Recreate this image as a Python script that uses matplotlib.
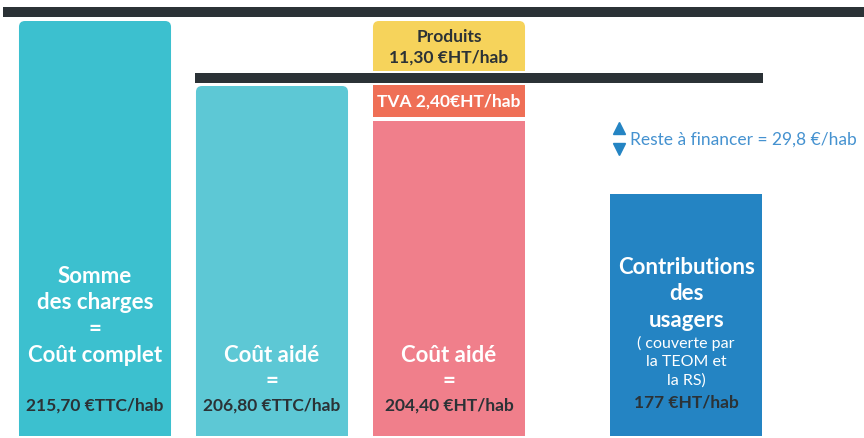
import numpy as np
import matplotlib.pyplot as plt
from matplotlib.patches import FancyBboxPatch, Rectangle

plt.rcParams['font.family'] = ['Lato', 'DejaVu Sans']

# niveaux schématiques des colonnes (hauteur sur l'infographie, pas à l'échelle des montants)
colonnes = ['Coût complet', 'Coût aidé TTC', 'Coût aidé HT', 'Contributions des usagers']
niveaux = [415, 350, 315, 242]
montants = ['215,70 €TTC/hab', '206,80 €TTC/hab', '204,40 €HT/hab', '177 €HT/hab']
tva_txt = 'TVA 2,40€HT/hab'
produits_txt = '11,30 €HT/hab'
reste_txt = 'Reste à financer = 29,8 €/hab'

couleurs = ['#3cc0cf', '#5dc8d5', '#f07f8b', '#2484c3']
c_tva = '#ef6f56'
c_produits = '#f6d35b'
c_noir = '#2b3236'
c_reste = '#4592d0'

x_pos = [0, 1, 2, 3.34]
largeur = 0.859
PX = 177.0  # pixels par unité x


def arrondir(ax, rect, r=6):
    """remplace un rectangle de barre par une version à coins supérieurs arrondis"""
    x, y = rect.get_x(), rect.get_y()
    w, h = rect.get_width(), rect.get_height()
    col = rect.get_facecolor()
    rect.remove()
    ax.add_patch(FancyBboxPatch((x, y), w, h,
                                boxstyle=f"round,pad=0,rounding_size={r / PX}",
                                mutation_aspect=PX, fc=col, ec='none'))
    ax.add_patch(Rectangle((x, y), w, h / 2, fc=col, ec='none'))


fig = plt.figure(figsize=(8.64, 4.39), dpi=100)
ax = fig.add_axes([0, 0, 1, 1])
ax.set_xlim(-95 / PX, (864 - 95) / PX)
ax.set_ylim(-2, 437)
ax.axis('off')

barres = ax.bar(x_pos, niveaux, width=largeur, color=couleurs, align='center')

# empilement de la 3e colonne : TVA puis Produits
gap = 4
tva_h = niveaux[1] - niveaux[2] - gap + 1
b_tva = ax.bar(x_pos[2], tva_h, bottom=niveaux[2] + gap, width=largeur, color=c_tva)
prod_bas = niveaux[1] + 15
b_prod = ax.bar(x_pos[2], niveaux[0] - prod_bas, bottom=prod_bas, width=largeur, color=c_produits)

arrondir(ax, barres[0])
arrondir(ax, barres[1])
arrondir(ax, b_prod[0])

# traits noirs de référence
ax.barh(niveaux[0] + 9, width=(864 - 3) / PX + 0.1, left=(3 - 95) / PX, height=10.5, color=c_noir)
ax.barh(niveaux[1] + 8.5, width=(763 - 195) / PX, left=(195 - 95) / PX, height=10, color=c_noir)

# textes colonnes 1 à 3
ax.text(x_pos[0], 121, 'Somme\ndes charges\n=\nCoût complet', ha='center', va='center',
        color='white', fontsize=16, fontweight='bold', linespacing=1.33)
for i in range(3):
    ax.text(x_pos[i], 31, montants[i], ha='center', va='center', color=c_noir,
            fontsize=12.5, fontweight='bold')
for i in (1, 2):
    ax.text(x_pos[i], 81, 'Coût aidé', ha='center', va='center', color='white',
            fontsize=16, fontweight='bold')
    ax.text(x_pos[i], 55, '=', ha='center', va='center', color='white',
            fontsize=16, fontweight='bold')

# colonne contributions
ax.text(x_pos[3], 143, 'Contributions\ndes\nusagers', ha='center', va='center',
        color='white', fontsize=16, fontweight='bold', linespacing=1.3)
ax.text(x_pos[3], 75, '( couverte par\nla TEOM et\nla RS)', ha='center', va='center',
        color='white', fontsize=11.5, fontweight='normal', linespacing=1.35)
ax.text(x_pos[3], 34, montants[3], ha='center', va='center', color=c_noir,
        fontsize=12.5, fontweight='bold')

# produits et TVA
ax.text(x_pos[2], 400, 'Produits', ha='center', va='center', color=c_noir,
        fontsize=12.5, fontweight='bold')
ax.text(x_pos[2], 379, produits_txt, ha='center', va='center', color=c_noir,
        fontsize=12.5, fontweight='bold')
ax.text(x_pos[2], 335, tva_txt, ha='center', va='center', color='white',
        fontsize=12.5, fontweight='bold')

# reste à financer
xa = (619 - 95) / PX
ax.plot([xa], [308], marker='^', color=couleurs[3], markersize=8, linestyle='none')
ax.plot([xa], [287], marker='v', color=couleurs[3], markersize=8, linestyle='none')
ax.text((630 - 95) / PX, 297, reste_txt, ha='left', va='center', color=c_reste,
        fontsize=12.5, fontweight='normal')

plt.savefig('out.png', dpi=100)
